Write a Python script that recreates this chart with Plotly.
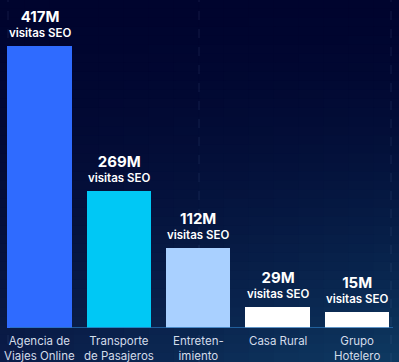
import plotly.graph_objects as go

# ---- data ----
categories = ["Agencia de<br>Viajes Online", "Transporte<br>de Pasajeros",
              "Entreten-<br>imiento", "Casa Rural", "Grupo<br>Hotelero"]
value_labels = ["417M", "269M", "112M", "29M", "15M"]
# bar heights as drawn in the picture (millions of SEO visits, same scale as the tallest bar)
bar_heights = [417, 203, 118, 31, 24]
bar_colors = ["#2f6bff", "#00c8f5", "#a9d0ff", "#ffffff", "#ffffff"]

W, H = 399, 362
MB = 34
ymax = 485

fig = go.Figure()
fig.add_trace(go.Bar(
    x=list(range(len(categories))), y=bar_heights,
    marker=dict(color=bar_colors, line=dict(width=0)),
    width=0.81, hoverinfo="skip",
))

# ---- background gradient ----
def lerp(a, b, t):
    return tuple(a[i] + (b[i] - a[i]) * t for i in range(3))

top = (0, 4, 46)
bot_left = (10, 28, 72)
bot_right = (14, 58, 98)
shapes = []
NX, NY = 16, 40
scale = H / (H - MB)
for j in range(NY):
    ty = (j + 0.5) / NY
    for i in range(NX):
        tx = (i + 0.5) / NX
        bottom = lerp(bot_left, bot_right, tx)
        t = ty ** 1.6
        c = lerp(top, bottom, t)
        shapes.append(dict(
            type="rect", xref="paper", yref="paper",
            x0=i / NX - 0.002, x1=(i + 1) / NX + 0.002,
            y0=1 - (j + 1) / NY * scale - 0.002,
            y1=1 - j / NY * scale + 0.002,
            fillcolor="rgb(%d,%d,%d)" % tuple(int(round(v)) for v in c),
            line=dict(width=0), layer="below",
        ))
# faint dashed vertical guides
for xp in [8 / W, 199 / W, 391 / W]:
    shapes.append(dict(type="line", xref="paper", yref="paper",
                       x0=xp, x1=xp, y0=-MB / (H - MB), y1=1,
                       line=dict(color="rgba(120,150,200,0.15)", width=1, dash="dash"),
                       layer="below"))
# baseline
shapes.append(dict(type="line", xref="paper", yref="y", x0=10 / W, x1=393 / W, y0=0, y1=0,
                   line=dict(color="#2a72b4", width=1.5), layer="above"))

annotations = []
for i, (cat, lab, h) in enumerate(zip(categories, value_labels, bar_heights)):
    annotations.append(dict(
        x=i, y=h, xref="x", yref="y", yanchor="bottom", yshift=4,
        text="<span style='font-size:15px'><b>%s</b></span><br>visitas SEO" % lab,
        showarrow=False, font=dict(family="Inter, Roboto, sans-serif", size=11.5, color="#ffffff",
                                   weight=600),
        align="center",
    ))
    annotations.append(dict(
        x=i, y=0, xref="x", yref="y", yanchor="top", yshift=-4,
        text=cat, showarrow=False, align="center",
        font=dict(family="Inter, Roboto, sans-serif", size=11.5, color="#d3dcea"),
    ))

a, b = 39.5, 79.35
fig.update_layout(
    width=W, height=H,
    margin=dict(l=0, r=0, t=0, b=MB, pad=0),
    paper_bgcolor="#0b2350", plot_bgcolor="rgba(0,0,0,0)",
    showlegend=False, bargap=0,
    xaxis=dict(range=[-a / b, (W - a) / b], showgrid=False, zeroline=False,
               showticklabels=False, fixedrange=True),
    yaxis=dict(range=[0, ymax], showgrid=False, zeroline=False,
               showticklabels=False, fixedrange=True),
    shapes=shapes, annotations=annotations,
)
fig.write_html("out.html", config={"displayModeBar": False},
               post_script="document.body.style.margin='0';document.body.style.overflow='hidden';")
